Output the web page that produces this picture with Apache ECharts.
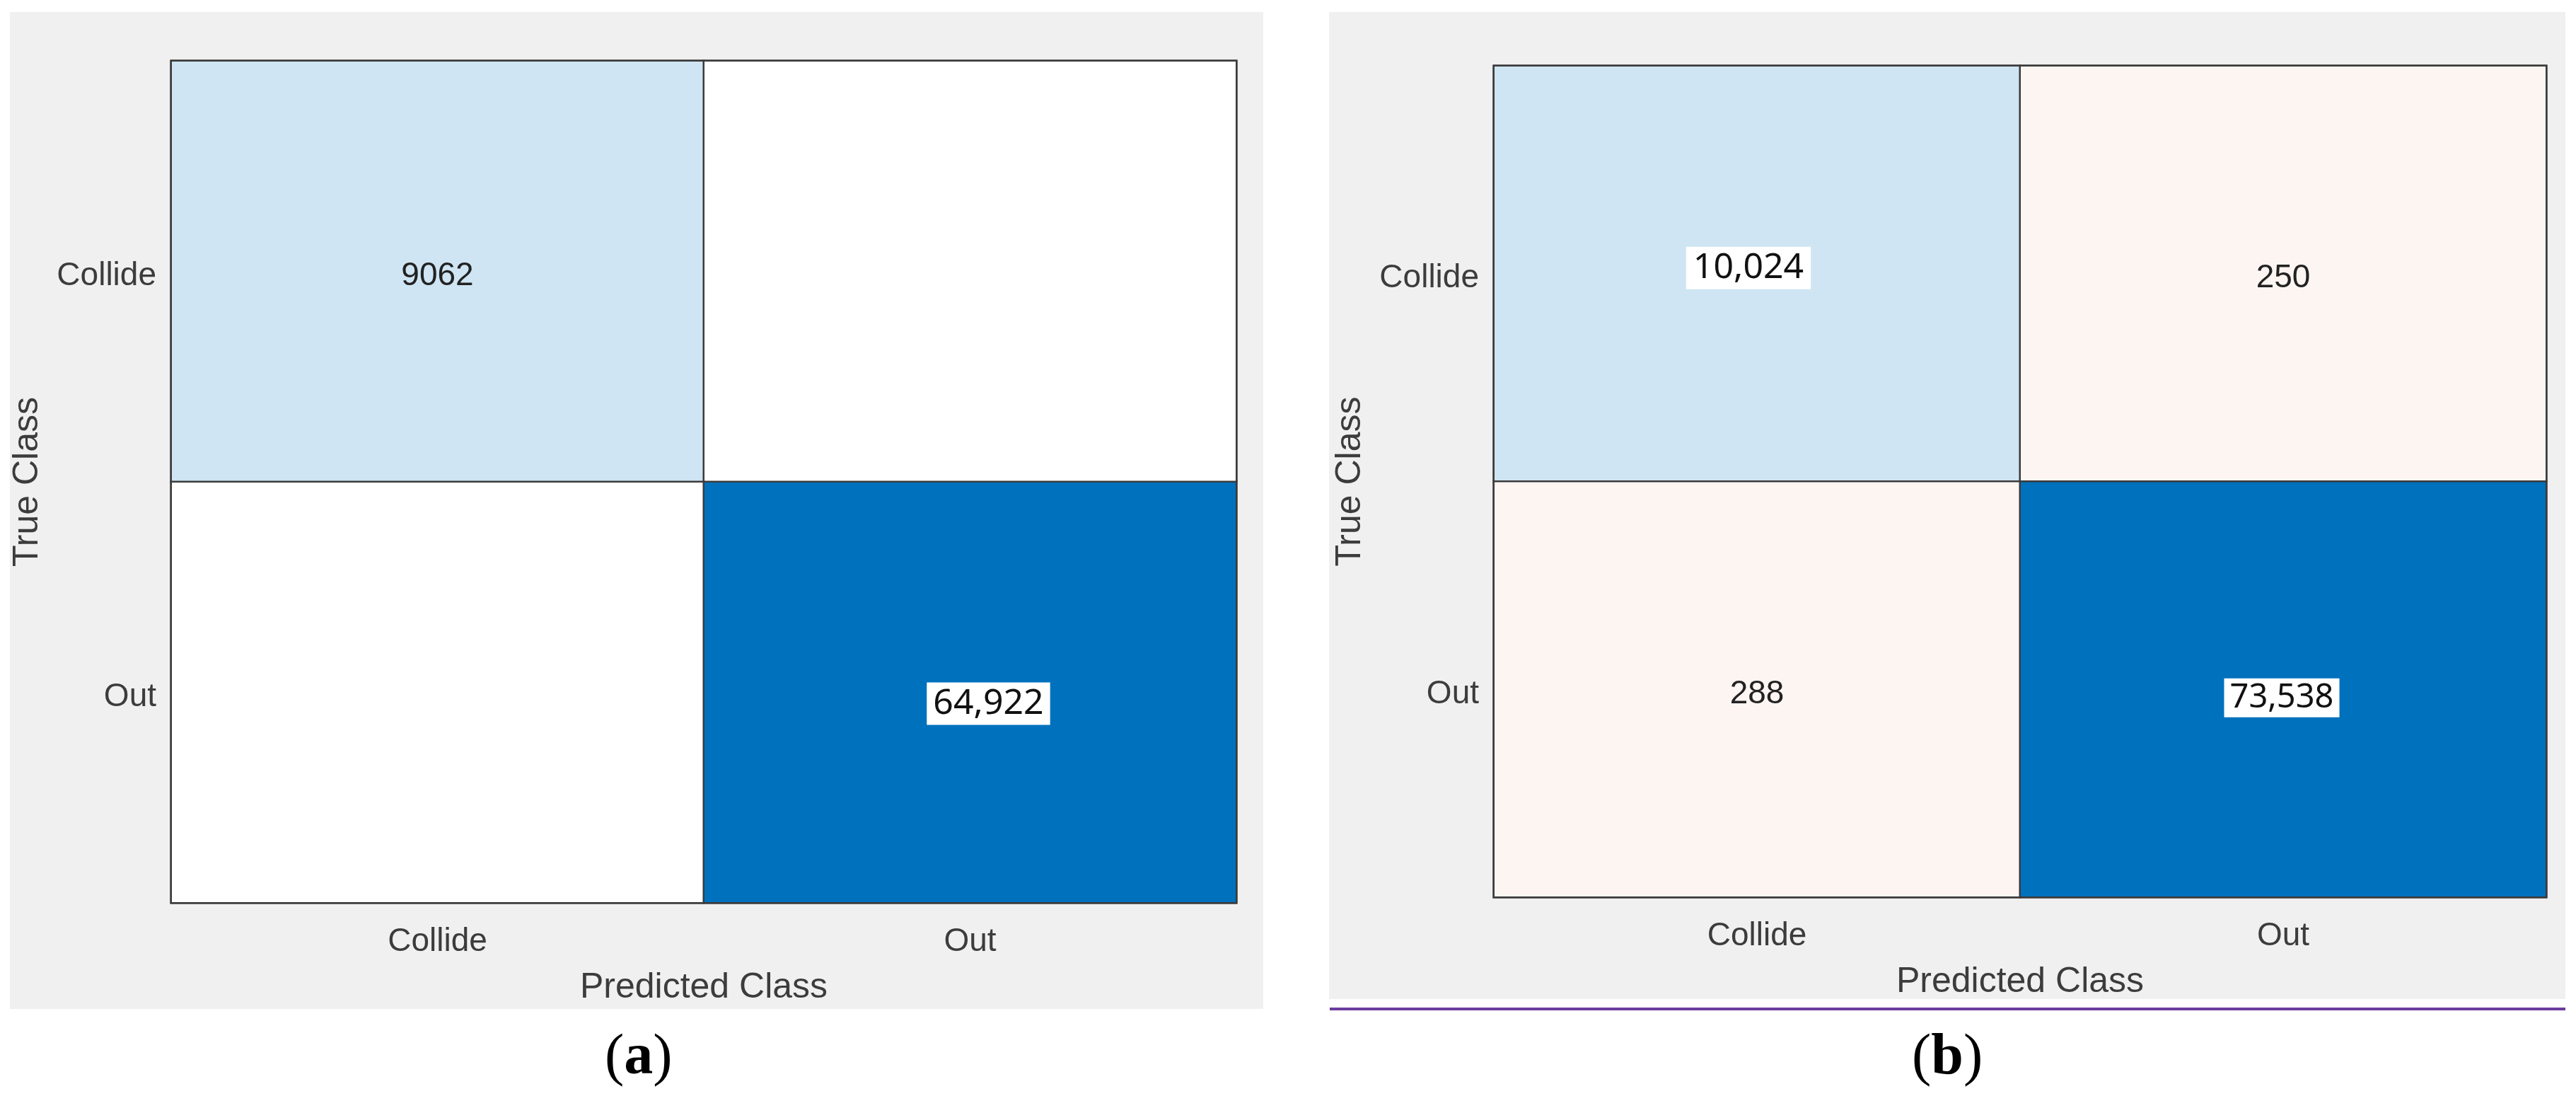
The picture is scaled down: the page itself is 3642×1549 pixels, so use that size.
<!DOCTYPE html>
<html>
<head>
<meta charset="utf-8">
<style>
html,body{margin:0;padding:0;background:#ffffff;}
#chart{width:3642px;height:1549px;}
</style>
<script src="https://cdn.jsdelivr.net/npm/echarts@6/dist/echarts.min.js"></script>
</head>
<body>
<div id="chart"></div>
<script>
// ---- data ----
const classes = ['Collide', 'Out'];
const xAxisName = 'Predicted Class';
const yAxisName = 'True Class';
// rows = true class, columns = predicted class
const matrixA = [[9062, 0], [0, 64922]];
const matrixB = [[10024, 250], [288, 73538]];
const captions = ['a', 'b'];

// ---- style ----
const COLORS = {
  diagLow: '#cfe5f3',
  diagHigh: '#0071bd',
  offDiag: '#fdf5f2',
  empty: '#ffffff',
  border: '#3a3a3a',
  panel: '#f0f0f0',
  text: '#3c3c3c'
};
// cells whose count is shown as a pasted, boxed annotation (row,col -> style)
const boxedA = { '1,1': { offset: [26, 16], size: 50, padding: [5, 9] } };
const boxedB = {
  '0,0': { offset: [-12, -8], size: 50, padding: [5, 10] },
  '1,1': { offset: [-2, 12], size: 47, padding: [4, 8] }
};

function cellColor(matrix, r, c) {
  const v = matrix[r][c];
  if (v === 0) return COLORS.empty;
  if (r === c) {
    const diag = matrix.map((row, i) => row[i]);
    return v === Math.max(...diag) ? COLORS.diagHigh : COLORS.diagLow;
  }
  return COLORS.offDiag;
}

function buildData(matrix, boxed) {
  const out = [];
  matrix.forEach((row, r) => {
    row.forEach((v, c) => {
      const key = r + ',' + c;
      const b = boxed[key];
      let label;
      if (v === 0) {
        label = { show: false };
      } else if (b) {
        label = {
          show: true,
          formatter: v.toLocaleString('en-US'),
          fontFamily: 'Noto Sans',
          fontSize: b.size,
          lineHeight: b.size,
          color: '#111111',
          backgroundColor: '#ffffff',
          padding: b.padding,
          offset: b.offset
        };
      } else {
        label = {
          show: true,
          formatter: String(v),
          fontFamily: 'Liberation Sans',
          fontSize: 46,
          color: '#222222',
          offset: [0, 7]
        };
      }
      out.push({
        value: [c, r, v],
        itemStyle: { color: cellColor(matrix, r, c) },
        label: label
      });
    });
  });
  return out;
}

const grids = [
  { left: 242, top: 86, width: 1506, height: 1190 },
  { left: 2112, top: 93, width: 1488, height: 1175 }
];

function xAxisFor(i) {
  return {
    type: 'category', gridIndex: i, data: classes, position: 'bottom',
    axisLine: { show: false }, axisTick: { show: false }, splitLine: { show: false },
    axisLabel: { fontFamily: 'Liberation Sans', fontSize: 46, color: COLORS.text, margin: 32 },
    name: xAxisName, nameLocation: 'middle', nameGap: 95,
    nameTextStyle: { fontFamily: 'Liberation Sans', fontSize: 50, color: COLORS.text }
  };
}
function yAxisFor(i) {
  return {
    type: 'category', gridIndex: i, data: classes, inverse: true,
    axisLine: { show: false }, axisTick: { show: false }, splitLine: { show: false },
    axisLabel: {
      fontFamily: 'Liberation Sans', fontSize: 46, color: COLORS.text, margin: 21,
      verticalAlign: 'top', lineHeight: 14
    },
    name: yAxisName, nameLocation: 'middle', nameGap: 178,
    nameTextStyle: { fontFamily: 'Liberation Sans', fontSize: 50, color: COLORS.text }
  };
}

const chart = echarts.init(document.getElementById('chart'), null, { renderer: 'canvas' });
chart.setOption({
  animation: false,
  backgroundColor: '#ffffff',
  graphic: [
    { type: 'rect', z: -10, shape: { x: 14, y: 17, width: 1772, height: 1409 }, style: { fill: COLORS.panel } },
    { type: 'rect', z: -10, shape: { x: 1879, y: 17, width: 1748, height: 1395 }, style: { fill: COLORS.panel } },
    { type: 'line', z: -10, shape: { x1: 1880, y1: 1426, x2: 3627, y2: 1426 }, style: { stroke: '#6a3c9e', lineWidth: 4 } },
    {
      type: 'text', left: 900 - 45, top: 1497 - 42,
      style: {
        text: '({b|' + captions[0] + '})', font: '82px "Liberation Serif"', fill: '#000000',
        rich: { b: { font: 'bold 82px "Liberation Serif"', fill: '#000000' } }
      }
    },
    {
      type: 'text', left: 2752 - 49, top: 1497 - 42,
      style: {
        text: '({b|' + captions[1] + '})', font: '82px "Liberation Serif"', fill: '#000000',
        rich: { b: { font: 'bold 82px "Liberation Serif"', fill: '#000000' } }
      }
    }
  ],
  grid: grids.map(g => Object.assign({
    show: true, backgroundColor: '#ffffff', borderColor: COLORS.border, borderWidth: 3, containLabel: false
  }, g)),
  xAxis: [xAxisFor(0), xAxisFor(1)],
  yAxis: [yAxisFor(0), yAxisFor(1)],
  series: [
    {
      type: 'heatmap', xAxisIndex: 0, yAxisIndex: 0,
      data: buildData(matrixA, boxedA),
      itemStyle: { borderColor: COLORS.border, borderWidth: 2.5 },
      emphasis: { disabled: true }
    },
    {
      type: 'heatmap', xAxisIndex: 1, yAxisIndex: 1,
      data: buildData(matrixB, boxedB),
      itemStyle: { borderColor: COLORS.border, borderWidth: 2.5 },
      emphasis: { disabled: true }
    }
  ]
});
</script>
</body>
</html>
